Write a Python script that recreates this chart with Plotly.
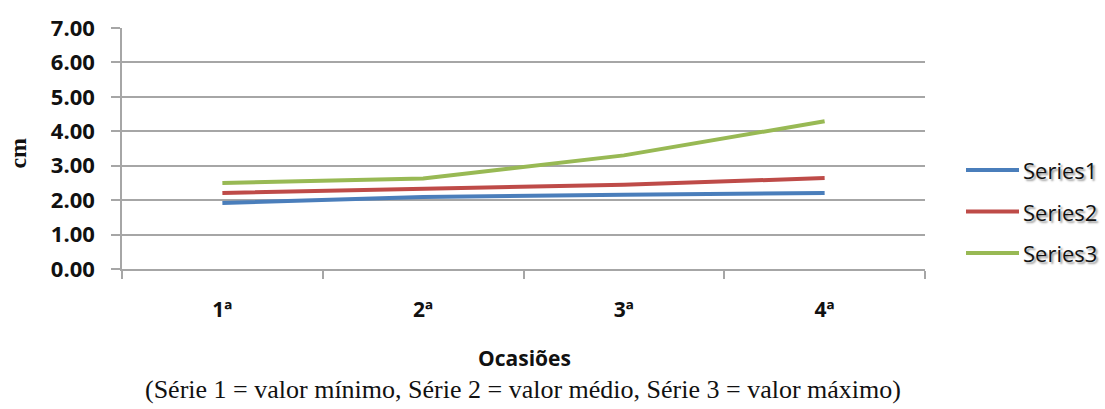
import plotly.graph_objects as go

# Occasions and measurements (cm)
categories = ["1ª", "2ª", "3ª", "4ª"]
series_names = ["Series1", "Series2", "Series3"]
series1 = [1.92, 2.09, 2.16, 2.21]
series2 = [2.21, 2.32, 2.45, 2.64]
series3 = [2.50, 2.63, 3.30, 4.29]
y_ticks = [0, 1, 2, 3, 4, 5, 6, 7]

colors = ["#4A7EBB", "#BE4B48", "#98B954"]
grid = "#A6A6A6"

W, H = 1105, 409
left, right, top, bottom = 122, 925, 20, 269.5
pw, ph = right - left, bottom - top


def px_x(x):
    return (x - left) / pw


def px_y(y):
    return (bottom - y) / ph


fig = go.Figure()
for name, vals, col in zip(series_names, [series1, series2, series3], colors):
    fig.add_trace(go.Scatter(
        x=categories, y=vals, name=name, mode="lines",
        line=dict(color=col, width=4), showlegend=False,
    ))

# Legend drawn beside the plot: long line swatches with shadowed labels
legend_rows = [167, 210, 253]
for name, col, yy in zip(series_names, colors, legend_rows):
    fig.add_shape(type="line", xref="paper", yref="paper",
                  x0=px_x(966), x1=px_x(1019), y0=px_y(yy), y1=px_y(yy),
                  line=dict(color=col, width=4))
    fig.add_annotation(xref="paper", yref="paper", x=px_x(1021), y=px_y(yy),
                       xanchor="left", yanchor="middle", showarrow=False,
                       text=name,
                       font=dict(family="Open Sans", size=22, color="#111111",
                                 shadow="2px 2px 2px #9a9a9a"))

# Axis titles and note
fig.add_annotation(xref="paper", yref="paper", x=px_x(524), y=px_y(362),
                   xanchor="center", yanchor="middle", showarrow=False,
                   text="<b>Ocasiões</b>",
                   font=dict(family="Open Sans", size=21, color="#111111"))
fig.add_annotation(xref="paper", yref="paper", x=px_x(523), y=px_y(394),
                   xanchor="center", yanchor="middle", showarrow=False,
                   text="(Série 1 = valor mínimo, Série 2 = valor médio, Série 3 = valor máximo)",
                   font=dict(family="Liberation Serif", size=26, color="#111111"))
fig.add_annotation(xref="paper", yref="paper", x=px_x(18), y=px_y(150),
                   xanchor="center", yanchor="middle", showarrow=False,
                   textangle=-90, text="<b>cm</b>",
                   font=dict(family="Liberation Serif", size=24, color="#111111"))

fig.update_layout(
    width=W, height=H,
    margin=dict(l=left, r=W - right, t=top, b=H - bottom, pad=0),
    plot_bgcolor="white", paper_bgcolor="white",
    font=dict(family="Open Sans", color="#111111"),
)
fig.update_xaxes(
    type="category", tickson="boundaries", range=[-0.5, len(categories) - 0.5],
    showgrid=False, showline=True, linecolor=grid, linewidth=1.5,
    ticks="outside", ticklen=8, tickcolor=grid, tickwidth=1.5,
    tickfont=dict(family="Open Sans", size=21, color="#111111", weight="bold"),
    ticklabelstandoff=21,
)
fig.update_yaxes(
    range=[0, 7], tickvals=y_ticks, tickformat=".2f",
    showgrid=True, gridcolor=grid, gridwidth=1.5,
    zeroline=False, showline=True, linecolor=grid, linewidth=1.5,
    ticks="outside", ticklen=9, tickcolor=grid, tickwidth=1.5,
    tickfont=dict(family="Open Sans", size=22, color="#111111", weight="bold"),
    ticklabelstandoff=12,
)

fig.write_html("out.html")
